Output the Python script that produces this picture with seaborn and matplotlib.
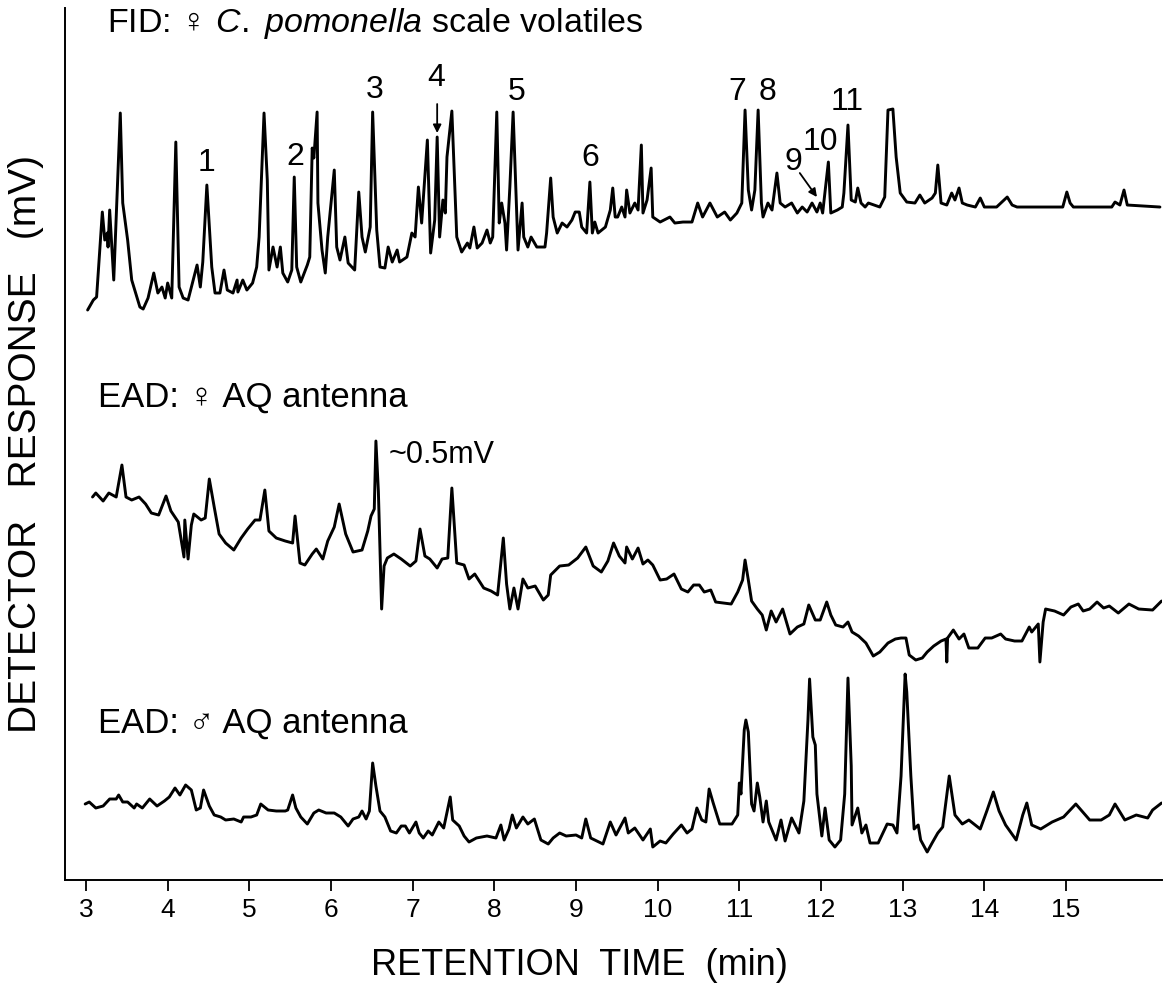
import matplotlib
matplotlib.use("Agg")
import matplotlib.pyplot as plt
import pandas as pd
import seaborn as sns

# Retention time (min) and detector response (arbitrary units)
fid_time = [
    3.02, 3.09, 3.13, 3.20, 3.23, 3.26, 3.27, 3.29, 3.34, 3.42, 3.45, 3.51, 3.56, 3.66, 3.70,
    3.76, 3.83, 3.88, 3.93, 3.97, 4.00, 4.05, 4.10, 4.14, 4.19, 4.25, 4.36, 4.40, 4.43, 4.48,
    4.54, 4.58, 4.64, 4.69, 4.73, 4.80, 4.85, 4.86, 4.92, 4.97, 5.04, 5.09, 5.12, 5.18, 5.22,
    5.24, 5.29, 5.34, 5.38, 5.41, 5.47, 5.52, 5.55, 5.58, 5.63, 5.71, 5.74, 5.77, 5.79, 5.83,
    5.84, 5.89, 5.93, 5.96, 6.04, 6.07, 6.11, 6.17, 6.21, 6.29, 6.34, 6.38, 6.42, 6.48, 6.51,
    6.56, 6.60, 6.66, 6.70, 6.75, 6.81, 6.84, 6.93, 6.99, 7.03, 7.07, 7.11, 7.18, 7.22, 7.27,
    7.30, 7.33, 7.37, 7.40, 7.42, 7.48, 7.54, 7.60, 7.67, 7.70, 7.75, 7.79, 7.85, 7.91, 7.95,
    7.98, 8.03, 8.06, 8.09, 8.13, 8.15, 8.19, 8.23, 8.27, 8.29, 8.34, 8.36, 8.41, 8.45, 8.52,
    8.62, 8.64, 8.69, 8.72, 8.77, 8.83, 8.89, 8.95, 8.99, 9.04, 9.07, 9.13, 9.17, 9.20, 9.23,
    9.27, 9.36, 9.42, 9.45, 9.48, 9.51, 9.56, 9.60, 9.62, 9.66, 9.72, 9.76, 9.80, 9.82, 9.87,
    9.92, 9.94, 10.03, 10.15, 10.21, 10.31, 10.42, 10.49, 10.55, 10.64, 10.73, 10.82, 10.89,
    10.97, 11.03, 11.07, 11.11, 11.15, 11.19, 11.23, 11.27, 11.29, 11.35, 11.40, 11.46, 11.50,
    11.56, 11.64, 11.71, 11.77, 11.83, 11.89, 11.95, 11.99, 12.02, 12.09, 12.12, 12.20, 12.26,
    12.28, 12.33, 12.37, 12.42, 12.45, 12.49, 12.54, 12.58, 12.72, 12.78, 12.82, 12.88, 12.92,
    12.97, 13.05, 13.15, 13.21, 13.27, 13.36, 13.40, 13.43, 13.47, 13.54, 13.60, 13.64, 13.69,
    13.73, 13.79, 13.89, 13.95, 14.00, 14.15, 14.28, 14.34, 14.40, 14.96, 15.01, 15.05, 15.09,
    15.56, 15.60, 15.66, 15.71, 15.75, 16.15,
]
fid_resp = [
    570, 580, 583, 668, 640, 647, 633, 670, 600, 767, 677, 640, 600, 573, 571,
    582, 607, 587, 593, 582, 597, 582, 738, 593, 582, 580, 615, 593, 618, 695,
    613, 587, 587, 610, 590, 587, 600, 588, 600, 590, 597, 613, 643, 767, 700,
    610, 633, 613, 633, 607, 598, 610, 703, 613, 598, 615, 623, 732, 722, 768,
    677, 630, 607, 643, 710, 633, 620, 643, 617, 610, 688, 643, 628, 653, 768,
    650, 613, 612, 633, 618, 630, 618, 623, 647, 643, 693, 657, 740, 627, 660,
    743, 643, 680, 667, 723, 769, 643, 628, 637, 632, 653, 632, 637, 650, 637,
    643, 768, 657, 677, 657, 630, 693, 768, 677, 630, 677, 643, 633, 643, 633,
    633, 647, 702, 663, 647, 657, 653, 660, 668, 668, 653, 647, 698, 647, 658,
    647, 653, 670, 692, 663, 663, 673, 663, 690, 667, 677, 670, 735, 667, 680,
    712, 663, 658, 663, 657, 658, 658, 677, 663, 677, 663, 668, 660,
    667, 677, 770, 690, 670, 690, 770, 677, 663, 677, 670, 707, 677,
    673, 677, 667, 673, 668, 677, 668, 677, 667, 718, 667, 670, 673,
    687, 755, 680, 678, 692, 677, 673, 677, 673, 683, 770, 771, 723,
    687, 678, 677, 685, 677, 682, 687, 715, 677, 675, 687, 680, 692,
    677, 675, 673, 682, 673, 673, 683, 675, 673, 673, 688, 677, 673,
    673, 678, 675, 690, 675, 673,
]

ead_female_time = [
    3.08, 3.12, 3.21, 3.28, 3.37, 3.44, 3.49, 3.56, 3.65, 3.73, 3.80, 3.89, 3.98, 4.04, 4.13,
    4.20, 4.21, 4.25, 4.29, 4.32, 4.41, 4.46, 4.51, 4.57, 4.63, 4.71, 4.81, 4.90, 4.98, 5.07,
    5.13, 5.19, 5.24, 5.33, 5.44, 5.53, 5.56, 5.62, 5.68, 5.77, 5.82, 5.90, 5.96, 6.04, 6.10,
    6.18, 6.27, 6.38, 6.45, 6.49, 6.53, 6.55, 6.58, 6.62, 6.65, 6.69, 6.77, 6.86, 6.97, 7.04,
    7.09, 7.15, 7.21, 7.30, 7.36, 7.43, 7.48, 7.54, 7.63, 7.69, 7.76, 7.87, 7.96, 8.04, 8.11,
    8.15, 8.19, 8.24, 8.29, 8.35, 8.41, 8.50, 8.60, 8.66, 8.69, 8.80, 8.91, 9.02, 9.12, 9.21,
    9.31, 9.39, 9.46, 9.53, 9.60, 9.62, 9.69, 9.76, 9.82, 9.88, 9.94, 10.03, 10.11, 10.20,
    10.29, 10.37, 10.44, 10.51, 10.57, 10.65, 10.71, 10.90, 10.98, 11.04, 11.07, 11.11, 11.15,
    11.22, 11.28, 11.33, 11.39, 11.45, 11.53, 11.62, 11.71, 11.79, 11.85, 11.93, 11.99, 12.07,
    12.12, 12.18, 12.27, 12.33, 12.38, 12.46, 12.55, 12.64, 12.72, 12.82, 12.91, 12.98, 13.04,
    13.08, 13.16, 13.24, 13.30, 13.38, 13.47, 13.53, 13.54, 13.55, 13.62, 13.69, 13.75, 13.81,
    13.92, 14.01, 14.09, 14.20, 14.26, 14.37, 14.46, 14.55, 14.58, 14.66, 14.68, 14.72, 14.75,
    14.86, 14.97, 15.06, 15.15, 15.21, 15.29, 15.38, 15.46, 15.53, 15.64, 15.77, 15.89, 16.06,
    16.17,
]
ead_female_resp = [
    383, 387, 379, 387, 383, 415, 383, 380, 383, 376, 367, 365, 384, 369, 358,
    323, 360, 321, 355, 366, 360, 362, 401, 373, 346, 337, 330, 342, 351, 360,
    360, 390, 349, 342, 339, 337, 364, 317, 315, 326, 331, 321, 339, 353, 376,
    346, 328, 330, 349, 364, 371, 439, 389, 271, 314, 322, 326, 321, 314, 319,
    351, 324, 321, 312, 321, 322, 392, 317, 315, 301, 306, 292, 289, 285, 342,
    296, 271, 292, 271, 301, 292, 294, 280, 285, 305, 314, 315, 322, 333, 314,
    308, 319, 337, 324, 317, 333, 321, 332, 316, 320, 315, 300, 301, 306,
    291, 288, 295, 295, 288, 290, 278, 276, 288, 300, 320, 300, 279,
    271, 265, 250, 269, 258, 271, 246, 253, 256, 275, 260, 260, 278,
    265, 255, 253, 258, 248, 244, 237, 224, 228, 237, 241, 242, 242,
    225, 220, 222, 228, 234, 239, 241, 218, 242, 250, 241, 246, 232,
    232, 242, 242, 246, 241, 239, 239, 253, 248, 256, 218, 258, 271,
    269, 265, 273, 276, 269, 271, 278, 272, 274, 267, 276, 271, 270,
    279,
]

ead_male_time = [
    2.99, 3.04, 3.12, 3.21, 3.29, 3.37, 3.40, 3.45, 3.51, 3.59, 3.62, 3.69, 3.78, 3.87, 3.96,
    4.02, 4.09, 4.15, 4.22, 4.29, 4.35, 4.40, 4.44, 4.51, 4.57, 4.65, 4.71, 4.81, 4.90, 4.93,
    5.02, 5.09, 5.14, 5.23, 5.33, 5.44, 5.47, 5.53, 5.57, 5.63, 5.71, 5.79, 5.85, 5.94, 6.04,
    6.12, 6.21, 6.27, 6.34, 6.38, 6.43, 6.47, 6.51, 6.55, 6.60, 6.66, 6.73, 6.80, 6.86, 6.91,
    6.96, 7.04, 7.08, 7.13, 7.19, 7.24, 7.32, 7.38, 7.46, 7.49, 7.57, 7.63, 7.69, 7.78, 7.91,
    8.02, 8.08, 8.12, 8.18, 8.22, 8.27, 8.35, 8.41, 8.49, 8.57, 8.66, 8.72, 8.80, 8.88, 9.00,
    9.07, 9.12, 9.18, 9.33, 9.42, 9.49, 9.60, 9.64, 9.72, 9.82, 9.91, 9.94, 10.03, 10.10,
    10.19, 10.29, 10.36, 10.42, 10.48, 10.54, 10.59, 10.63, 10.68, 10.76, 10.91, 10.98, 11.00,
    11.02, 11.06, 11.08, 11.11, 11.15, 11.18, 11.22, 11.25, 11.29, 11.33, 11.36, 11.45, 11.51,
    11.56, 11.64, 11.73, 11.79, 11.84, 11.86, 11.90, 11.93, 11.95, 12.01, 12.05, 12.10, 12.17,
    12.24, 12.29, 12.33, 12.37, 12.38, 12.45, 12.50, 12.55, 12.60, 12.70, 12.81, 12.88, 12.93,
    12.98, 13.03, 13.05, 13.10, 13.14, 13.19, 13.22, 13.30, 13.36, 13.43, 13.49, 13.57, 13.64,
    13.73, 13.81, 13.95, 14.03, 14.11, 14.18, 14.26, 14.39, 14.47, 14.52, 14.58, 14.69, 14.83,
    14.97, 15.12, 15.29, 15.43, 15.53, 15.60, 15.72, 15.86, 16.00, 16.06, 16.17,
]
ead_male_resp = [
    76, 78, 72, 74, 81, 81, 85, 78, 78, 72, 76, 72, 81, 74, 79,
    83, 92, 85, 95, 90, 70, 72, 90, 74, 65, 63, 60, 61, 58, 63,
    63, 65, 76, 70, 69, 69, 70, 85, 72, 63, 56, 67, 70, 67, 67,
    63, 54, 61, 63, 69, 61, 69, 117, 94, 69, 63, 49, 47, 54, 54,
    47, 58, 47, 42, 49, 45, 58, 52, 83, 60, 54, 44, 38, 42, 44,
    42, 55, 40, 51, 65, 52, 63, 56, 61, 40, 36, 42, 47, 44, 45,
    42, 61, 42, 36, 58, 45, 62, 47, 52, 40, 51, 33, 39, 37,
    46, 55, 47, 51, 72, 60, 58, 91, 77, 56, 56, 65, 97,
    86, 150, 160, 148, 76, 69, 97, 83, 58, 79, 58, 40, 60,
    39, 62, 47, 79, 160, 201, 143, 135, 86, 44, 72, 40, 33,
    40, 86, 202, 114, 55, 72, 47, 55, 37, 37, 56, 55, 47,
    104, 206, 188, 104, 51, 55, 40, 28, 37, 47, 53, 104, 65,
    56, 60, 51, 69, 88, 69, 55, 40, 65, 77, 55, 51, 58,
    63, 76, 60, 60, 65, 76, 60, 65, 62, 70, 77,
]

trace_names = ["FID", "EAD female", "EAD male"]
x_ticks = list(range(3, 16))

peak_numbers = ["1", "2", "3", "4", "5", "6", "7", "8", "9", "10", "11"]

frames = []
for name, t, r in zip(trace_names,
                      [fid_time, ead_female_time, ead_male_time],
                      [fid_resp, ead_female_resp, ead_male_resp]):
    frames.append(pd.DataFrame({"time": t, "response": r, "trace": name}))
df = pd.concat(frames, ignore_index=True)

sns.set_theme(style="white")
plt.rcParams["font.family"] = ["Liberation Sans", "DejaVu Sans"]
plt.rcParams["mathtext.fontset"] = "custom"
plt.rcParams["mathtext.rm"] = "Liberation Sans"
plt.rcParams["mathtext.it"] = "Liberation Sans:italic"

fig = plt.figure(figsize=(11.69, 9.92), dpi=100)
ax = fig.add_axes([0.0556, 0.1129, 0.9384, 0.879])

sns.lineplot(data=df, x="time", y="response", units="trace", estimator=None,
             sort=False, color="black", linewidth=2.1, ax=ax, legend=False)

ax.set_xlim(2.743, 16.175)
ax.set_ylim(0, 872)
ax.set_xticks(x_ticks)
ax.set_yticks([])
ax.tick_params(axis="x", direction="out", length=8, width=1.3, pad=5,
               labelsize=19, colors="black", bottom=True)
for side in ["top", "right"]:
    ax.spines[side].set_visible(False)
for side in ["left", "bottom"]:
    ax.spines[side].set_linewidth(1.4)
    ax.spines[side].set_color("black")

ax.set_xlabel("RETENTION  TIME  (min)", fontsize=26, color="black")
ax.set_ylabel("DETECTOR   RESPONSE   (mV)", fontsize=28, color="black")
ax.xaxis.set_label_coords(0.469, -0.078)
ax.yaxis.set_label_coords(-0.019, 0.5)

# trace labels
ax.text(3.26, 857, "FID: \u2640 $\\mathit{C.\\ pomonella}$ scale volatiles",
        fontsize=24.5, va="center", ha="left", color="black")
ax.text(3.15, 483, "EAD: \u2640 AQ antenna", fontsize=25, va="center", ha="left",
        color="black")
ax.text(3.15, 157, "EAD: \u2642 AQ antenna", fontsize=25, va="center", ha="left",
        color="black")
ax.text(6.70, 425, "~0.5mV", fontsize=22, va="center", ha="left", color="black")

# numbered FID peaks
label_t = [4.48, 5.56, 6.54, 7.29, 8.27, 9.17, 10.98, 11.34, 11.66, 11.99, 12.32]
label_y = [717, 723, 790, 802, 788, 722, 788, 788, 718, 738, 778]
for s, t, y in zip(peak_numbers, label_t, label_y):
    ax.text(t, y, s, fontsize=23, ha="center", va="center", color="black")

arrow = dict(arrowstyle="-|>", color="black", lw=1.3, mutation_scale=12,
             shrinkA=0, shrinkB=0)
ax.annotate("", xy=(7.30, 747), xytext=(7.30, 776), arrowprops=arrow)
ax.annotate("", xy=(11.95, 683), xytext=(11.74, 707), arrowprops=arrow)

fig.savefig("out.png", dpi=100)
plt.close(fig)
